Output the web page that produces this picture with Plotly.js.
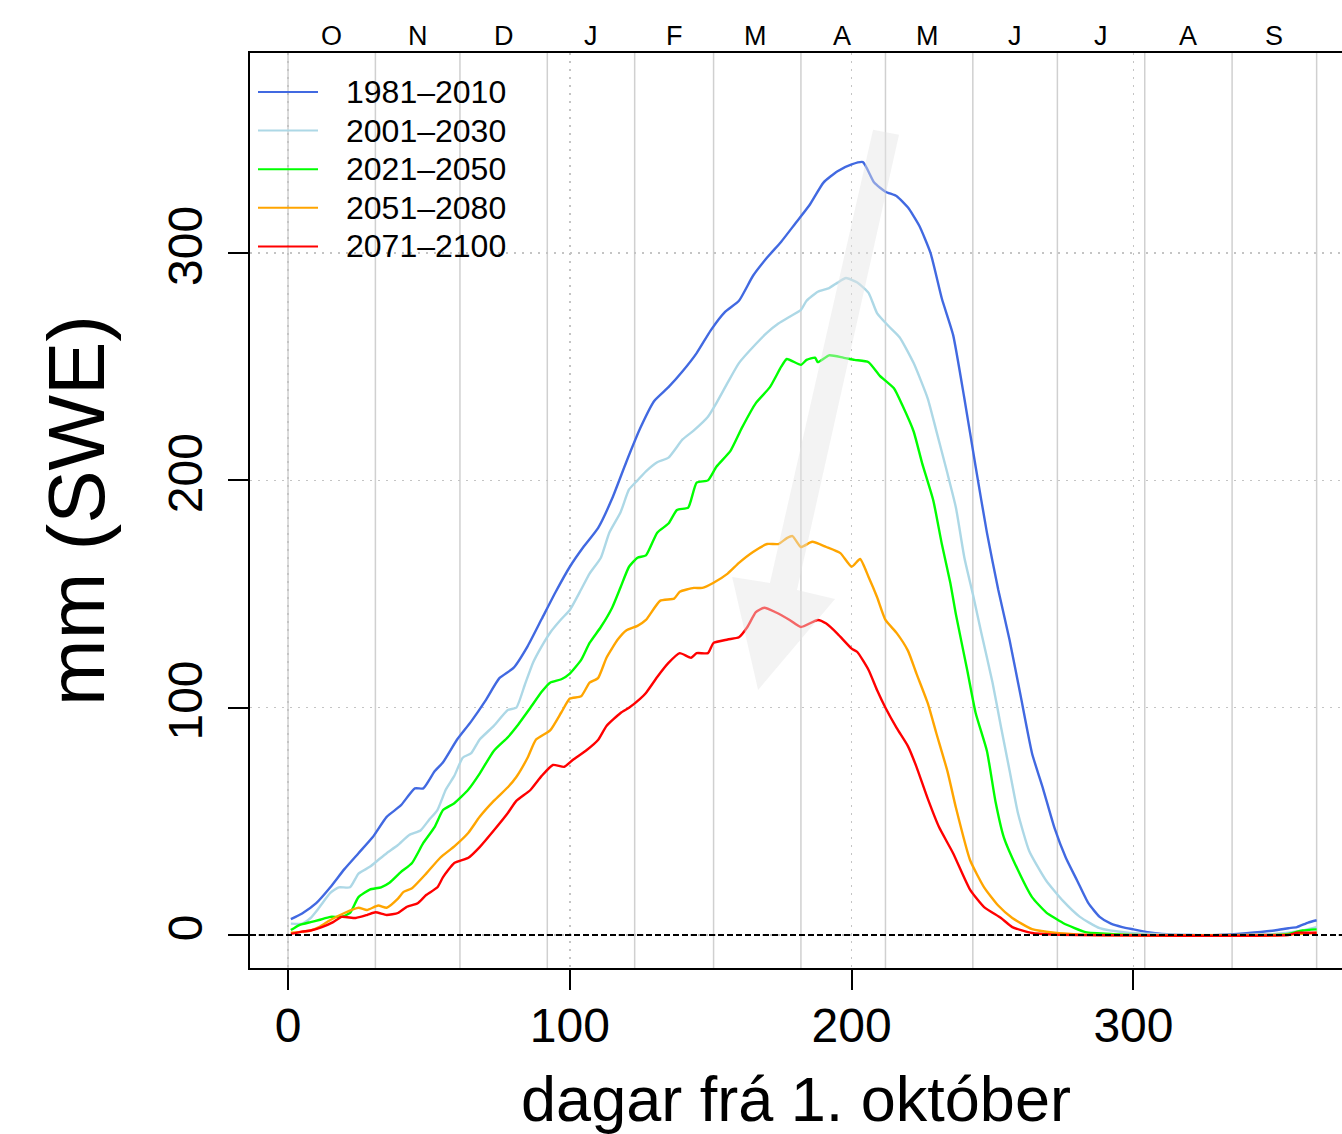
<!DOCTYPE html>
<html>
<head>
<meta charset="utf-8">
<script src="https://cdn.plot.ly/plotly-3.0.1.min.js"></script>
<style>html,body{margin:0;padding:0;background:#fff;}#chart{width:1342px;height:1134px;}</style>
</head>
<body>
<div id="chart"></div>
<script>
// ---- data ----
const seriesNames = ["1981\u20132010", "2001\u20132030", "2021\u20132050", "2051\u20132080", "2071\u20132100"];
const seriesColors = ["#4169E1", "#ADD8E6", "#00FF00", "#FFA500", "#FF0000"];

const days1981 = [1,5,10,15,20,25,30,35,40,45,48,52,55,60,65,70,75,80,85,90,95,100,105,110,115,120,125,130,135,140,145,150,155,160,165,170,175,180,185,190,195,200,204,208,212,216,220,224,228,232,236,240,244,248,252,256,260,264,268,272,276,280,284,288,292,296,300,305,310,320,330,340,350,355,358,362,365];
const swe1981 = [7,9.5,14,21,29,36,43,52,57,64.5,64.5,72,76,86,94,103,113,117.5,127,139,151,162,171,179,192,208,223,235,241,248,256,266,274,279,290,298,305,313,321,331,336,339,340,331,327,325,320,312,300,280,264,236,206,177,152,130,105,80,64,47,34,24,14,8,5,3.5,2.5,1.3,0.5,0,0,0.8,2,3,3.5,5.5,6.5];

const days2001 = [1,5,8,11,15,18,22,25,29,32,35,39,43,47,50,53,56,59,62,65,68,73,78,81,84,87,90,93,97,100,104,107,111,114,118,121,124,127,131,135,140,144,149,152,156,160,166,170,174,178,182,184,188,192,195,198,202,206,209,213,217,222,227,230,234,237,240,243,246,250,253,256,259,263,269,275,281,288,298,310,320,340,350,355,360,365];
const swe2001 = [5,5,7.5,12,18.5,21,21,27,30,33,36,39.6,44,46,50.6,55,64,70,78,80,86,92,99,100,110,120,127,133,139,143,152,159,166,177,186,196,200,204,208,210,218,222,228,234,243,251.6,260,265,269,272,275,279,283,284.6,287,289,287,282.5,273.6,268,263,251.6,236,222,203,188,166,150,133,111,91.5,72.6,53.7,37,24,15,8,3,1,0.3,0,0,0.5,1,2,3.5];

const days2021 = [1,4,8,11,15,19,22,25,29,33,36,40,44,48,52,55,59,64,68,73,78,81,86,90,93,97,100,104,107,111,115,118,121,124,127,131,135,138,142,145,149,152,157,161,166,171,175,177,182,184,187,188,192,197,201,206,210,215,218,222,225,229,232,235,237,241,244,248,251,254,259,264,269,275,283,293,300,350,355,360,365];
const swe2021 = [2.2,4.4,5.7,6.6,8,8,9.7,16.7,20,21,23,27.7,31.7,40.5,47.5,55,58,64,71,81,87,91.5,100,107,111,112.5,115,121,128.5,135.5,144,153,162,166,167,177,181,187,188,199,200,206,213,223,234,241,250,253.4,250.8,253,254,252,255,254,253,252,246,240.5,233,221.5,207.6,191,172,155,141,116.6,97.7,81,59,43,28.6,16.7,10,5.3,1.3,0.4,0,0,0.5,2,2.5];

const days2051 = [1,5,8,11,15,20,25,28,32,35,39,41,44,49,54,59,64,68,73,78,81,85,88,93,97,100,104,107,110,113,117,120,124,127,132,137,139,144,147,151,156,160,165,170,174,177,179,182,186,191,196,200,203,206,209,212,216,220,223,227,230,234,237,242,247,252,257,264,272,280,290,350,360,365];
const swe2051 = [1,1.5,2,3.5,6.6,9.7,12,11,13,12,16,19,20.6,27,34,39,45,52,59,65,69.5,78,86,90,98,104,105,111,113,122,130,134,136,138.6,147,148,151,152.7,152.7,155,159,163.7,168.5,172,172,174.6,175.5,170.7,173,170.7,168,162,165.4,157.5,148.7,138.6,132.8,125,115,102,89,72,56,33,21,13,7.5,2.6,1,0.3,0,0,0.5,1];

const days2071 = [1,5,8,12,16,19,24,28,31,35,39,42,46,49,53,55,59,64,68,73,78,81,86,90,94,98,101,106,110,113,118,121,125,127,131,135,139,143,145,149,151,156,160,163,166,169,173,178,182,188,191,195,200,202,206,209,212,216,220,223,227,231,236,242,247,253,257,264,272,280,355,358,362,365];
const swe2071 = [0.5,1.5,2,3.5,5.7,8,7.5,8.8,10,8.8,9.7,12.3,14,17.6,21,25.5,31.7,34,38.7,46,53.7,59,63.8,70,74.8,74,77,81.4,85.8,92,97.7,100,104,106.5,113.5,119.7,124,122,124,124,128.5,130,131,135.5,142,144,142,138.6,135.5,138.6,137,132.5,126,124.5,116.6,107.8,100,91,83,74,60,47.5,36,20,12.3,7.5,3.5,0.9,0.2,0,0,1,1,1];

const xTicks = [0, 100, 200, 300];
const yTicks = [0, 100, 200, 300];
const monthStarts = [0, 31, 61, 92, 123, 151, 182, 212, 243, 273, 304, 335, 365];
const monthMid = [15.5, 46, 76.5, 107.5, 137, 166, 196.5, 227, 258, 288.5, 319.5, 350];
const monthLetters = ["O", "N", "D", "J", "F", "M", "A", "M", "J", "J", "A", "S"];

// ---- build ----
const allDays = [days1981, days2001, days2021, days2051, days2071];
const allSwe = [swe1981, swe2001, swe2021, swe2051, swe2071];

const FONT = "Liberation Sans, Arial, Helvetica, sans-serif";
const xRange = [-13.5, 374];
const yRange = [-14.5, 388];

const traces = allSwe.map((v, i) => ({
  type: "scatter", mode: "lines",
  x: allDays[i], y: v, name: seriesNames[i],
  line: { color: seriesColors[i], width: 2.4, shape: "spline", smoothing: 0.5 },
  showlegend: false, hoverinfo: "x+y+name"
}));

const shapes = [];
const annotations = [];

// month boundary lines
monthStarts.forEach(d => {
  shapes.push({ type: "line", xref: "x", yref: "paper", x0: d, x1: d, y0: 0, y1: 1,
    line: { color: "#d0d0d0", width: 1.5 }, layer: "below" });
});
// month letters along the top
monthMid.forEach((d, i) => {
  annotations.push({ xref: "x", yref: "paper", x: d, y: (968 - 36) / 915,
    xanchor: "center", yanchor: "middle", showarrow: false, text: monthLetters[i],
    font: { family: "Liberation Sans Narrow, Liberation Sans, Arial, sans-serif", size: 27, color: "#000" } });
});

// zero reference line (dashed)
shapes.push({ type: "line", xref: "paper", x0: 0, x1: 1, yref: "y", y0: 0, y1: 0,
  line: { color: "#000", width: 2, dash: "6px,3px" }, layer: "above" });

// big translucent arrow
shapes.push({ type: "path", xref: "x", yref: "y",
  path: "M207.6,354.2 L216.8,352 L180.6,151.8 L194.1,147.8 L166.8,107.8 L157.6,157.5 L171,154.9 Z",
  fillcolor: "rgba(228,228,228,0.45)", line: { width: 0 }, layer: "above" });

// legend (drawn manually to match the reference's layout)
const legTop = (968 - 92) / 915, legStep = 38.6 / 915;
seriesNames.forEach((n, i) => {
  const yy = legTop - i * legStep;
  shapes.push({ type: "line", xref: "paper", yref: "paper",
    x0: 8 / 1092, x1: 68 / 1092, y0: yy, y1: yy,
    line: { color: seriesColors[i], width: 2 }, layer: "above" });
  annotations.push({ xref: "paper", yref: "paper", x: 94 / 1092, y: yy,
    xanchor: "left", yanchor: "middle", showarrow: false, text: n,
    font: { family: FONT, size: 32, color: "#000" } });
});

const layout = {
  width: 1342, height: 1134,
  margin: { l: 250, r: 0, t: 53, b: 166 },
  paper_bgcolor: "#fff", plot_bgcolor: "#fff",
  font: { family: FONT, color: "#000" },
  showlegend: false,
  xaxis: {
    range: xRange, tickmode: "array", tickvals: xTicks,
    ticks: "outside", ticklen: 20, tickwidth: 2, tickcolor: "#000",
    tickfont: { size: 48, family: FONT }, ticklabelstandoff: -6,
    showline: true, linewidth: 2, linecolor: "#000", mirror: true,
    showgrid: true, gridcolor: "#c4c4c4", gridwidth: 1.5, griddash: "2px,6px",
    zeroline: false,
    title: { text: "dagar frá 1. október", font: { size: 63, family: FONT }, standoff: 28 }
  },
  yaxis: {
    range: yRange, tickmode: "array", tickvals: yTicks,
    ticks: "outside", ticklen: 20, tickwidth: 2, tickcolor: "#000",
    tickangle: -90, tickfont: { size: 48, family: FONT }, ticklabelstandoff: 7,
    showline: true, linewidth: 2, linecolor: "#000", mirror: false,
    showgrid: true, gridcolor: "#c4c4c4", gridwidth: 1.5, griddash: "2px,6px",
    zeroline: false,
    title: { text: "mm (SWE)", font: { size: 80, family: FONT }, standoff: 28 }
  },
  shapes: shapes,
  annotations: annotations
};

Plotly.newPlot("chart", traces, layout, { staticPlot: true, displayModeBar: false });
</script>
</body>
</html>
